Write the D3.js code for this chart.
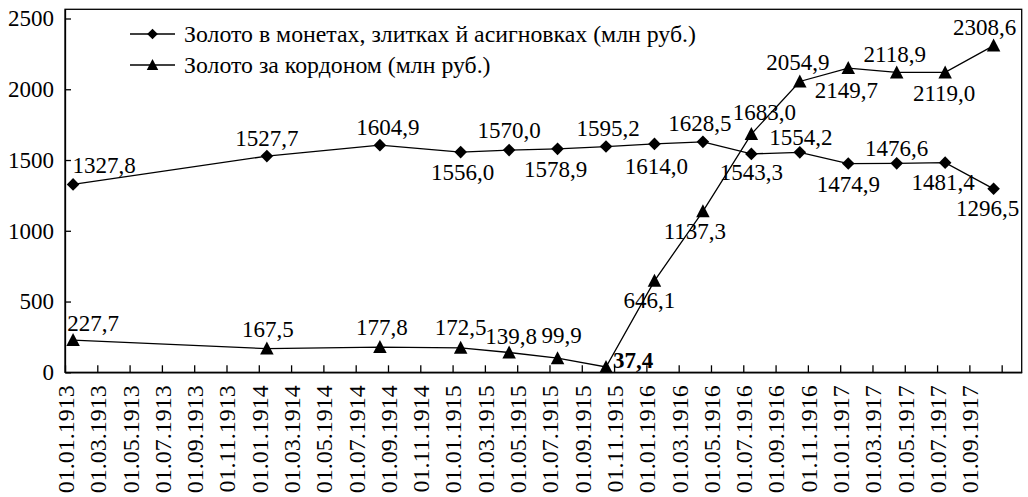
<!DOCTYPE html>
<html>
<head>
<meta charset="utf-8">
<script src="https://cdn.jsdelivr.net/npm/d3@7"></script>
<style>
  body { margin: 0; background: #fff; }
  svg text { font-family: "Liberation Serif", "DejaVu Serif", serif; fill: #000; }
</style>
</head>
<body>
<script>
// data
const months = ["1913-01", "1914-01", "1914-08", "1915-01", "1915-04", "1915-07", "1915-10",
    "1916-01", "1916-04", "1916-07", "1916-10", "1917-01", "1917-04", "1917-07", "1917-10"];
const goldHome = [1327.8, 1527.7, 1604.9, 1556.0, 1570.0, 1578.9, 1595.2,
    1614.0, 1628.5, 1543.3, 1554.2, 1474.9, 1476.6, 1481.4, 1296.5];
const goldAbroad = [227.7, 167.5, 177.8, 172.5, 139.8, 99.9, 37.4,
    646.1, 1137.3, 1683.0, 2054.9, 2149.7, 2118.9, 2119.0, 2308.6];
const seriesNames = ["Золото в монетах, злитках й асигновках (млн руб.)", "Золото за кордоном (млн руб.)"];
const tickLabels = ["01.01.1913", "01.03.1913", "01.05.1913", "01.07.1913", "01.09.1913", "01.11.1913",
    "01.01.1914", "01.03.1914", "01.05.1914", "01.07.1914", "01.09.1914", "01.11.1914",
    "01.01.1915", "01.03.1915", "01.05.1915", "01.07.1915", "01.09.1915", "01.11.1915",
    "01.01.1916", "01.03.1916", "01.05.1916", "01.07.1916", "01.09.1916", "01.11.1916",
    "01.01.1917", "01.03.1917", "01.05.1917", "01.07.1917", "01.09.1917"];
const yTicks = [0, 500, 1000, 1500, 2000, 2500];

// label offsets from their point (px), kept apart from the values
const dxHome = [31, 0, 8, 2, 0, -2, 2, 2, -3, 0, 1, 0, 0, -2, -6];
const dyHome = [-19, -18, -18, 20, -20, 20, -19, 22, -19, 18, -15, 20, -15, 19, 19];
const dxAbroad = [20, 1, 2, 0, 2, 4, 7, -5, -8, 13, -2, -2, -2, -1, -9];
const dyAbroad = [-17, -20, -20, -21, -17, -23, -7, 19, 20, -22, -20, 22, -18, 21, -19];
const rightAnchored = [6]; // the 37,4 label sits to the right of its mark, in bold

const width = 1028, height = 497;
const svg = d3.select("body").append("svg")
    .attr("width", width)
    .attr("height", height);

// month index from 01.1913, points sit in the middle of their month
const monthIndex = s => {
    const [yy, mm] = s.split("-").map(Number);
    return (yy - 1913) * 12 + (mm - 1);
};

const x = d3.scaleLinear().domain([0, 59.24]).range([65, 1021.7]);
const y = d3.scaleLinear().domain([0, 2565]).range([372.3, 9.3]);

// plot frame
svg.append("rect")
    .attr("x", x(0)).attr("y", y(2565))
    .attr("width", x(59.24) - x(0)).attr("height", y(0) - y(2565))
    .attr("fill", "none").attr("stroke", "#000").attr("stroke-width", 1.3);

// x axis
const tickMonths = d3.range(0, 59, 2);
const xAxis = svg.append("g")
    .attr("transform", `translate(0,${y(0)})`)
    .call(d3.axisBottom(x).tickValues(tickMonths).tickSize(-7).tickSizeOuter(0)
        .tickFormat((d, i) => tickLabels[i] || ""));
xAxis.selectAll("path, line").attr("stroke", "#000").attr("stroke-width", 1.3);
xAxis.selectAll("text")
    .attr("transform", "rotate(-90)")
    .attr("text-anchor", "end")
    .attr("x", -13).attr("y", 0).attr("dy", "0.35em")
    .attr("font-size", 24);

// y axis
const yAxis = svg.append("g")
    .attr("transform", `translate(${x(0)},0)`)
    .call(d3.axisLeft(y).tickValues(yTicks).tickFormat(d3.format("d"))
        .tickSize(-6).tickSizeOuter(0).tickPadding(11));
yAxis.selectAll("path, line").attr("stroke", "#000").attr("stroke-width", 1.3);
yAxis.selectAll("text").attr("font-size", 23);

const diamond = r => `M0,${-r}L${r},0L0,${r}L${-r},0Z`;
const triangle = (w, h) => `M0,${-h * 0.54}L${w / 2},${h * 0.46}L${-w / 2},${h * 0.46}Z`;
const fmt = v => d3.format(".1f")(v).replace(".", ",");

const line = d3.line()
    .x(d => x(monthIndex(d.m) + 0.5))
    .y(d => y(d.v));

function drawSeries(values, shape, dx, dy, special) {
    const pts = values.map((v, i) => ({ m: months[i], v: v, i: i }));
    svg.append("path")
        .datum(pts)
        .attr("d", line)
        .attr("fill", "none")
        .attr("stroke", "#000")
        .attr("stroke-width", 1.3);
    svg.append("g").selectAll("path")
        .data(pts)
        .enter().append("path")
        .attr("transform", d => `translate(${x(monthIndex(d.m) + 0.5)},${y(d.v)})`)
        .attr("d", shape)
        .attr("fill", "#000");
    svg.append("g").selectAll("text")
        .data(pts)
        .enter().append("text")
        .attr("x", d => x(monthIndex(d.m) + 0.5) + dx[d.i])
        .attr("y", d => y(d.v) + dy[d.i])
        .attr("dy", "0.35em")
        .attr("text-anchor", d => special.includes(d.i) ? "start" : "middle")
        .attr("font-size", 23)
        .attr("font-weight", d => special.includes(d.i) ? "bold" : "normal")
        .text(d => fmt(d.v));
}

drawSeries(goldHome, diamond(6.3), dxHome, dyHome, []);
drawSeries(goldAbroad, triangle(13.5, 13), dxAbroad, dyAbroad, rightAnchored);

// legend
const legend = svg.append("g").attr("transform", "translate(130,0)");
const legendRows = [
    { name: seriesNames[0], shape: diamond(5.3), y: 34 },
    { name: seriesNames[1], shape: triangle(11.5, 11), y: 65 }
];
legendRows.forEach(r => {
    legend.append("line")
        .attr("x1", 0).attr("x2", 45)
        .attr("y1", r.y).attr("y2", r.y)
        .attr("stroke", "#000").attr("stroke-width", 1.3);
    legend.append("path")
        .attr("transform", `translate(22.5,${r.y})`)
        .attr("d", r.shape)
        .attr("fill", "#000");
    legend.append("text")
        .attr("x", 54).attr("y", r.y)
        .attr("dy", "0.35em")
        .attr("font-size", 23.8)
        .text(r.name);
});
</script>
</body>
</html>
